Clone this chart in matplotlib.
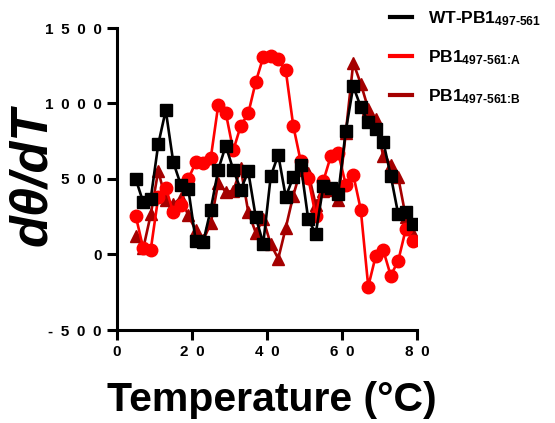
import numpy as np
import matplotlib
matplotlib.use("Agg")
import matplotlib.pyplot as plt

plt.rcParams['font.family'] = ['Liberation Sans', 'DejaVu Sans']
plt.rcParams['mathtext.fontset'] = 'custom'
plt.rcParams['mathtext.rm'] = 'Liberation Sans:bold'
plt.rcParams['mathtext.bf'] = 'Liberation Sans:bold'
plt.rcParams['mathtext.it'] = 'Liberation Sans:bold:italic'

temperature = list(range(5, 80, 2))

wt = [500, 345, 370, 730, 955, 612, 463, 437, 90, 83,
      298, 562, 720, 562, 430, 550, 248, 72, 518, 660,
      382, 513, 595, 233, 138, 452, 440, 401, 818, 1114,
      978, 875, 829, 748, 522, 266, 283, 200]

mut_a = [255, 40, 32, 380, 443, 280, 330, 500, 610, 605,
         638, 989, 939, 689, 853, 934, 1143, 1307, 1314, 1292,
         1220, 853, 616, 507, 255, 485, 650, 671, 463, 529,
         298, -212, -9, 29, -140, -41, 167, 90]

mut_b = [120, 40, 265, 555, 360, 333, 375, 260, 160, 95,
         207, 475, 415, 420, 570, 282, 145, 233, 68, -28,
         176, 390, 562, 540, 330, 420, 430, 360, 803, 1270,
         1132, 965, 895, 650, 595, 510, 250, 134]

labels = [r'WT-PB1$_{\text{497-561}}$',
          r'PB1$_{\text{497-561:A}}$',
          r'PB1$_{\text{497-561:B}}$']

yticks = [-500, 0, 500, 1000, 1500]
xticks = [0, 20, 40, 60, 80]

fig = plt.figure(figsize=(5.55, 4.23), dpi=100)
ax = fig.add_axes([117 / 555, 93 / 423, 300 / 555, 302 / 423])

ax.plot(temperature, mut_b, color='#A50000', lw=1.9, marker='^', ms=8.5,
        label=labels[2], zorder=2)
ax.plot(temperature, mut_a, color='#FF0000', lw=1.9, marker='o', ms=9,
        label=labels[1], zorder=3)
ax.plot(temperature, wt, color='black', lw=1.9, marker='s', ms=8.5,
        label=labels[0], zorder=4)

ax.set_xlim(0, 80)
ax.set_ylim(-500, 1500)
ax.set_xticks(xticks)
ax.set_yticks(yticks)

def spaced(v):
    return '\u2002'.join(str(int(v)))

ax.set_xticklabels([spaced(v) for v in xticks], fontweight='bold', fontsize=11)
ax.set_yticklabels([spaced(v) for v in yticks], fontweight='bold', fontsize=11)

for side in ('top', 'right'):
    ax.spines[side].set_visible(False)
for side in ('left', 'bottom'):
    ax.spines[side].set_linewidth(2.2)
ax.tick_params(width=2.2, length=7, direction='out', pad=4)

ax.set_xlabel('Temperature (°C)', fontsize=29.5, fontweight='bold')
ax.xaxis.label.set_va('center')
ax.xaxis.set_label_coords(0.517, -0.232)
ax.set_ylabel('dθ/dT', fontsize=37.5, fontweight='bold', fontstyle='italic')
ax.yaxis.label.set_va('center')
ax.yaxis.set_label_coords(-0.28, 0.51)

handles, labs = ax.get_legend_handles_labels()
order = [2, 1, 0]
leg = ax.legend([handles[i] for i in order], [labs[i] for i in order],
                loc='upper left', bbox_to_anchor=(0.857, 1.113),
                frameon=False, prop={'weight': 'bold', 'size': 12.5},
                handlelength=1.3, labelspacing=1.15, handletextpad=0.9)
for h in leg.legend_handles:
    h.set_marker('')
    h.set_linewidth(3)

fig.savefig('out.png', dpi=100)
